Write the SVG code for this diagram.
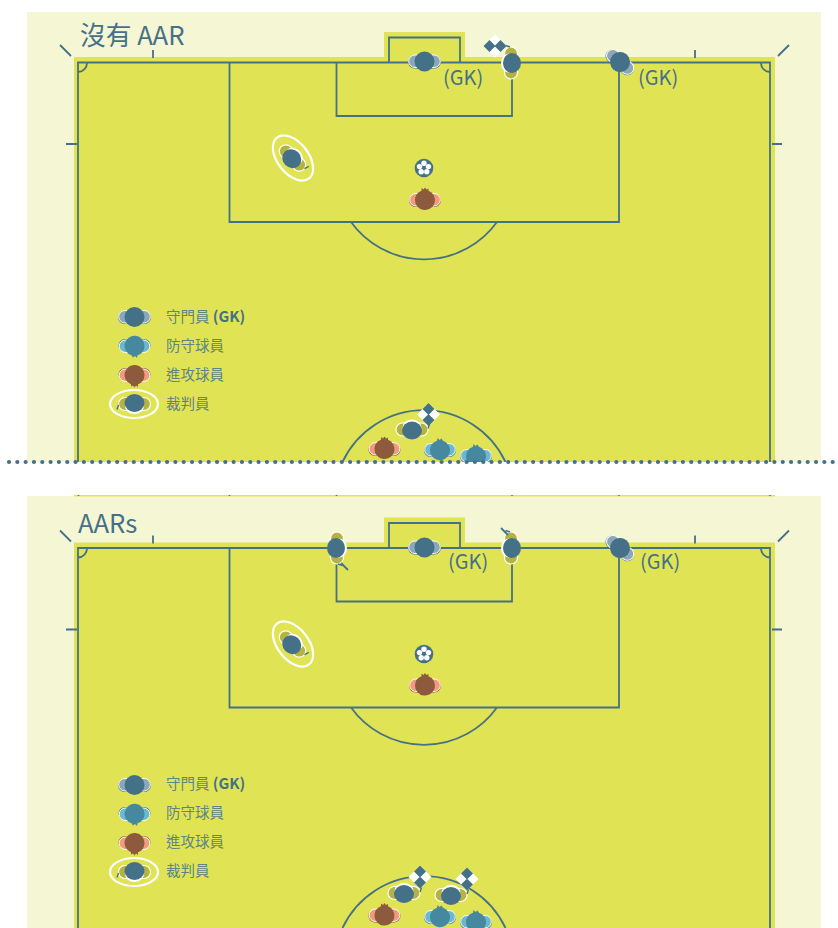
<svg xmlns="http://www.w3.org/2000/svg" width="838" height="928" viewBox="0 0 838 928">
<style>
.l{fill:none;stroke:#457188;stroke-width:1.8}
.t{font-family:"Noto Sans CJK TC","Noto Sans",sans-serif;fill:#457188}
.title{font-size:25.700px}
.gk{font-size:20px}
.leg{font-size:14.500px;fill:#5d8585}
.b{font-weight:700;font-size:15px;fill:#457188}
.w{fill:none;stroke:#fff;stroke-width:2.200}
</style>
<defs>
<g id="pitch">
<path d="M74 57H384V32H465V57H775V500H74Z" fill="#e0e454"/>
<path class="l" d="M78 500V62.500H770V500M389 62.500V37.500H460V62.500M336.500 62.500V116H512V62.500M229.500 62.500V222H619V62.500M351 222A90 90 0 0 0 497 222M78 72A9 9 0 0 0 87 62.500M761 62.500A9 9 0 0 0 770 72M60 45L71 56M789 45L778 56M153 50V58M695 50V58M66 144H77M772 144H782"/>
</g>
<g id="gk">
<rect x="-16.500" y="-6" width="33" height="13" rx="6.500" fill="#457188"/>
<rect x="-15.800" y="-6.500" width="31.600" height="12.500" rx="6.200" fill="#8ba7b8" stroke="#fff" stroke-width="1"/>
<circle r="10" fill="#457188"/>
</g>
<g id="def">
<rect x="-16" y="-6" width="32" height="13" rx="6.500" fill="#457188"/>
<rect x="-15.300" y="-6.500" width="30.600" height="12.500" rx="6.200" fill="#6bb8cf" stroke="#fff" stroke-width="1"/>
<path d="M-10 0A10 10 0 0 1 -3 -9.300L-2.500 -12L-0.500 -10L1.500 -11.500L3 -9.300A10 10 0 1 1 -10 0Z" fill="#46889f"/>
</g>
<g id="att">
<rect x="-16" y="-6" width="32" height="13" rx="6.500" fill="#8d5a3d"/>
<rect x="-15.300" y="-6.500" width="30.600" height="12.500" rx="6.200" fill="#f39a7c" stroke="#fff" stroke-width="1"/>
<path d="M-10 0A10 10 0 0 1 -3.500 -9.300L-3.500 -12L-1.500 -10.500L0 -12.500L1.500 -10.500L3.500 -11.500L3.500 -9.300A10 10 0 1 1 -10 0Z" fill="#8d5a3d"/>
</g>
<g id="ref">
<rect x="-16" y="-6.500" width="32" height="13" rx="6.500" fill="#b4b341" stroke="#fff" stroke-width="1.200"/>
<ellipse rx="9.500" ry="8" cy="-2" fill="#fff"/>
<ellipse rx="10" ry="9" cy="1" fill="#457188"/>
<path d="M17.500 -5.500L16 -1" fill="none" stroke="#457188" stroke-width="1.400"/>
</g>
<g id="flag">
<path d="M0 -11.500L11.500 0L0 11.500L-11.500 0Z" fill="#fff"/>
<path d="M0 -11.500L6 -5.500L0 0.500L-6 -5.500ZM0 -0.500L6 5.500L0 11.500L-6 5.500Z" fill="#457188"/>
</g>
<g id="ball">
<circle r="9.300" fill="#457188"/>
<circle cy="-4.700" r="2.700" fill="#fff"/><circle cx="4.500" cy="-1.400" r="2.700" fill="#fff"/><circle cx="2.800" cy="3.800" r="2.700" fill="#fff"/><circle cx="-2.800" cy="3.800" r="2.700" fill="#fff"/><circle cx="-4.500" cy="-1.400" r="2.700" fill="#fff"/>
</g>
<clipPath id="c1"><rect x="0" y="0" width="838" height="462"/></clipPath>
<clipPath id="c2"><rect x="0" y="496" width="838" height="432"/></clipPath>
</defs>
<rect width="838" height="928" fill="#fff"/>
<g id="panel-no-aar" clip-path="url(#c1)">
<rect x="27" y="12" width="794" height="450" fill="#f5f6d3"/>
<use href="#pitch"/>
<text class="t title" x="80" y="45">沒有 AAR</text>
<g id="gk1"><use href="#gk" transform="translate(424.500 61.500)"/><text class="t gk" x="443" y="85">(GK)</text></g>
<g id="gk2"><use href="#gk" transform="translate(620 62) rotate(40)"/><text class="t gk" x="638" y="85">(GK)</text></g>
<g id="ar1"><use href="#ref" transform="translate(511 63) rotate(-90)"/></g>
<g id="flag1"><use href="#flag" transform="translate(495 46) rotate(90)"/></g>
<g id="ref1"><ellipse cx="293" cy="158" rx="15.500" ry="26" transform="rotate(-38 293 158)" class="w"/><use href="#ref" transform="translate(292.500 158) rotate(45)"/></g>
<g id="ball1"><use href="#ball" transform="translate(424 168)"/></g>
<g id="att1"><use href="#att" transform="translate(425 200)"/></g>
<g id="legend1">
<use href="#gk" transform="translate(134.500 317)"/><text class="t leg" x="166" y="322">守門員 <tspan class="b">(GK)</tspan></text>
<use href="#def" transform="translate(134.500 346) rotate(180)"/><text class="t leg" x="166" y="351">防守球員</text>
<use href="#att" transform="translate(134.500 375) rotate(180)"/><text class="t leg" x="166" y="380">進攻球員</text>
<ellipse cx="134" cy="404" rx="24" ry="14" class="w"/><use href="#ref" transform="translate(134.500 404) rotate(180)"/><text class="t leg" x="166" y="409">裁判員</text>
</g>
<path class="l" d="M342.500 462A90 90 0 0 1 505.500 462"/>
<g id="flag2"><use href="#flag" transform="translate(428.500 414.500)"/></g>
<g id="ref2"><use href="#ref" transform="translate(412 429.500)"/></g>
<g id="att2"><use href="#att" transform="translate(384.500 449)"/></g>
<g id="def1"><use href="#def" transform="translate(440 450)"/></g>
<g id="def2"><use href="#def" transform="translate(476 456)"/></g>
</g>
<path id="divider" d="M9 462H838" fill="none" stroke="#457188" stroke-width="4.200" stroke-linecap="round" stroke-dasharray="0 8.320"/>
<g id="seam">
<rect x="74" y="495" width="701" height="1.500" fill="#e0e454"/>
<path d="M78.500 495V497M229.500 495V497M336.500 495V497M512 495V497M619 495V497M770 495V497" stroke="#457188" stroke-width="1.500" fill="none"/>
</g>
<g id="panel-aars" clip-path="url(#c2)">
<rect x="27" y="496" width="794" height="432" fill="#f5f6d3"/>
<rect x="74" y="495" width="701" height="1.500" fill="#e0e454"/>
<g transform="translate(0 485.500)"><use href="#pitch"/></g>
<text class="t title" x="78" y="533">AARs</text>
<g id="gk3"><use href="#gk" transform="translate(424.500 547.500)"/><text class="t gk" x="448" y="569">(GK)</text></g>
<g id="gk4"><use href="#gk" transform="translate(620 548) rotate(40)"/><text class="t gk" x="640" y="569">(GK)</text></g>
<g id="ar2"><use href="#ref" transform="translate(337 548) rotate(90)"/><path class="l" d="M341 563L348 570" stroke-width="1.200"/></g>
<g id="ar3"><use href="#ref" transform="translate(511 548) rotate(-90)"/><path class="l" d="M501 528L508 535" stroke-width="1.200"/></g>
<g id="ref3"><ellipse cx="293" cy="644" rx="15.500" ry="26" transform="rotate(-38 293 644)" class="w"/><use href="#ref" transform="translate(292.500 644) rotate(45)"/></g>
<g id="ball2"><use href="#ball" transform="translate(424 654)"/></g>
<g id="att3"><use href="#att" transform="translate(425 685.500)"/></g>
<g id="legend2">
<use href="#gk" transform="translate(134.500 785)"/><text class="t leg" x="166" y="789">守門員 <tspan class="b">(GK)</tspan></text>
<use href="#def" transform="translate(134.500 814) rotate(180)"/><text class="t leg" x="166" y="818">防守球員</text>
<use href="#att" transform="translate(134.500 843) rotate(180)"/><text class="t leg" x="166" y="847">進攻球員</text>
<ellipse cx="134" cy="872" rx="24" ry="14" class="w"/><use href="#ref" transform="translate(134.500 872) rotate(180)"/><text class="t leg" x="166" y="876">裁判員</text>
</g>
<path class="l" d="M342.500 928A90 90 0 0 1 505.500 928"/>
<g id="flag3"><use href="#flag" transform="translate(420 877)"/></g>
<g id="flag4"><use href="#flag" transform="translate(467 879)"/></g>
<g id="ref4"><use href="#ref" transform="translate(404 893)"/></g>
<g id="ref5"><use href="#ref" transform="translate(451 895)"/></g>
<g id="att4"><use href="#att" transform="translate(384.500 915.500)"/></g>
<g id="def3"><use href="#def" transform="translate(440 917)"/></g>
<g id="def4"><use href="#def" transform="translate(476 922)"/></g>
</g>
</svg>
